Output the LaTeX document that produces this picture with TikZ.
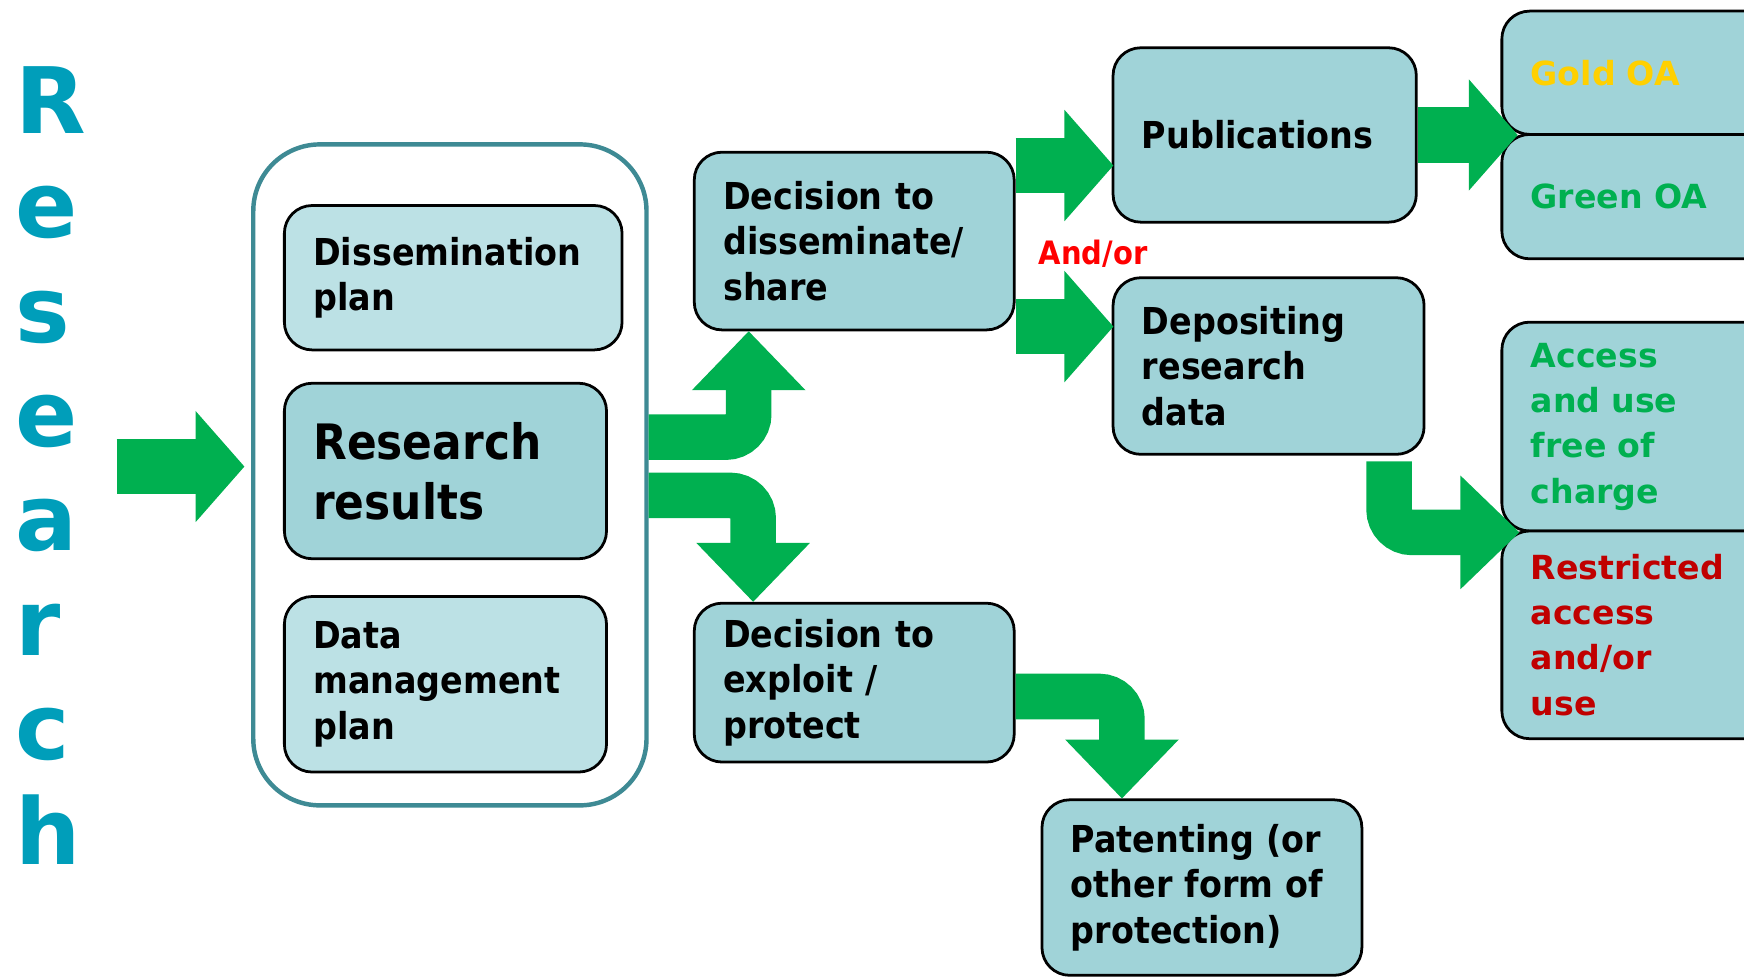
\documentclass[tikz,border=0pt]{standalone}
\usepackage{fontspec}
\usetikzlibrary{arrows.meta}
\newfontfamily\boxfont{DejaVu Sans}[FakeStretch=0.9]
\newfontfamily\sidefont{DejaVu Sans}
\definecolor{boxfill}{RGB}{160,211,216}
\definecolor{planfill}{RGB}{188,225,229}
\definecolor{flowgreen}{RGB}{0,176,80}
\definecolor{letterteal}{RGB}{0,158,186}
\definecolor{stageline}{RGB}{62,138,148}
\definecolor{goldtext}{RGB}{255,208,0}
\definecolor{greentext}{RGB}{0,176,80}
\definecolor{redtext}{RGB}{192,0,0}
\definecolor{andred}{RGB}{255,0,0}

\tikzset{
  flowbox/.style={draw=black, line width=0.5mm, fill=boxfill, rounded corners=5mm,
    inner xsep=5.2mm, inner ysep=0pt, align=left, text width=47.2mm,
    font=\boxfont\bfseries\fontsize{19}{23.2}\selectfont},
  sidebox/.style={flowbox, font=\sidefont\bfseries\fontsize{17}{23.2}\selectfont},
  stagebox/.style={draw=stageline, line width=0.8mm, rounded corners=12mm,
    minimum width=70.8mm, minimum height=119mm},
  sideletter/.style={text=letterteal, inner sep=0pt,
    font=\sidefont\bfseries\fontsize{47}{50}\selectfont},
  straightflow/.style={draw=flowgreen, line width=10mm,
    -{Triangle[length=8.8mm, width=20mm, line width=0.8pt]}},
  bentflow/.style={draw=flowgreen, line width=8.2mm, rounded corners=4.1mm,
    -{Triangle[length=10.6mm, width=20.4mm, line width=0.8pt]}},
}

\begin{document}
\begin{tikzpicture}[x=0.2mm, y=-0.2mm]
 \useasboundingbox (0,0) rectangle (1570,880);
 \clip (0,0) rectangle (1570,880);

 % vertical title
 \foreach \ch [count=\i from 0] in {R,e,s,e,a,r,c,h}
   \node[sideletter, anchor=base west] (letter\i) at (14,{120+94*\i}) {\ch};

 % planning stage
 \node[stagebox] (stage) at (405,427.5) {};
 \node[flowbox, fill=planfill, text width=50.4mm, minimum height=26mm] (dissplan) at (408,250) {Dissemination\\plan};
 \node[flowbox, text width=47.6mm, minimum height=31.6mm,
   font=\boxfont\bfseries\fontsize{25}{30.6}\selectfont] (results) at (401,424) {Research\\results};
 \node[flowbox, fill=planfill, text width=47.6mm, minimum height=31.6mm] (dmplan) at (401,616) {Data\\management\\plan};

 % decisions
 \node[flowbox, minimum height=32mm] (share) at (769,217) {Decision to\\disseminate/\\share};
 \node[flowbox, minimum height=28.6mm] (exploit) at (769,614.5) {Decision to\\exploit /\\protect};
 \node[flowbox, text width=44.2mm, minimum height=31.4mm] (pubs) at (1138.5,121.5) {Publications};
 \node[flowbox, text width=45.6mm, minimum height=31.8mm] (deposit) at (1142,329.5) {Depositing\\research\\data};
 \node[flowbox, minimum height=31.6mm] (patent) at (1082,799) {Patenting (or\\other form of\\protection)};
 \node[text=andred, inner sep=0pt, font=\boxfont\bfseries\fontsize{16.5}{20}\selectfont] (andor) at (984,228) {And/or};

 % outcomes
 \node[sidebox, text=goldtext, minimum height=22.2mm] (gold) at (1496,65.5) {Gold OA};
 \node[sidebox, text=greentext, minimum height=22.4mm] (green) at (1496,177) {Green OA};
 \node[sidebox, text=greentext, minimum height=37.6mm] (free) at (1496,384) {Access\\and use\\free of\\charge};
 \node[sidebox, text=redtext, minimum height=37.4mm] (restricted) at (1496,571.5) {Restricted\\access\\and/or\\use};

 % arrows
 \coordinate (inlet) at (105,420);
 \draw[straightflow] (inlet) -- ([xshift=-1.2mm]stage.west |- inlet);
 \draw[bentflow] ([yshift=6.8mm]stage.east) -| ([xshift=-19mm]share.south);
 \draw[bentflow] ([yshift=-3.7mm]stage.east) -| ([xshift=-18.2mm]exploit.north);
 \draw[bentflow] ([yshift=-2.5mm]exploit.east) -| ([xshift=-14.4mm]patent.north);
 \draw[straightflow] ([yshift=13.6mm]share.east) -- ++(88,0);
 \draw[straightflow] ([yshift=-15.4mm]share.east) -- ++(88,0);
 \draw[straightflow] (pubs.east) -- ++(90,0);
 \draw[bentflow] ([xshift=21.7mm,yshift=-1mm]deposit.south) |- ([xshift=3.4mm]free.south west);
\end{tikzpicture}
\end{document}
